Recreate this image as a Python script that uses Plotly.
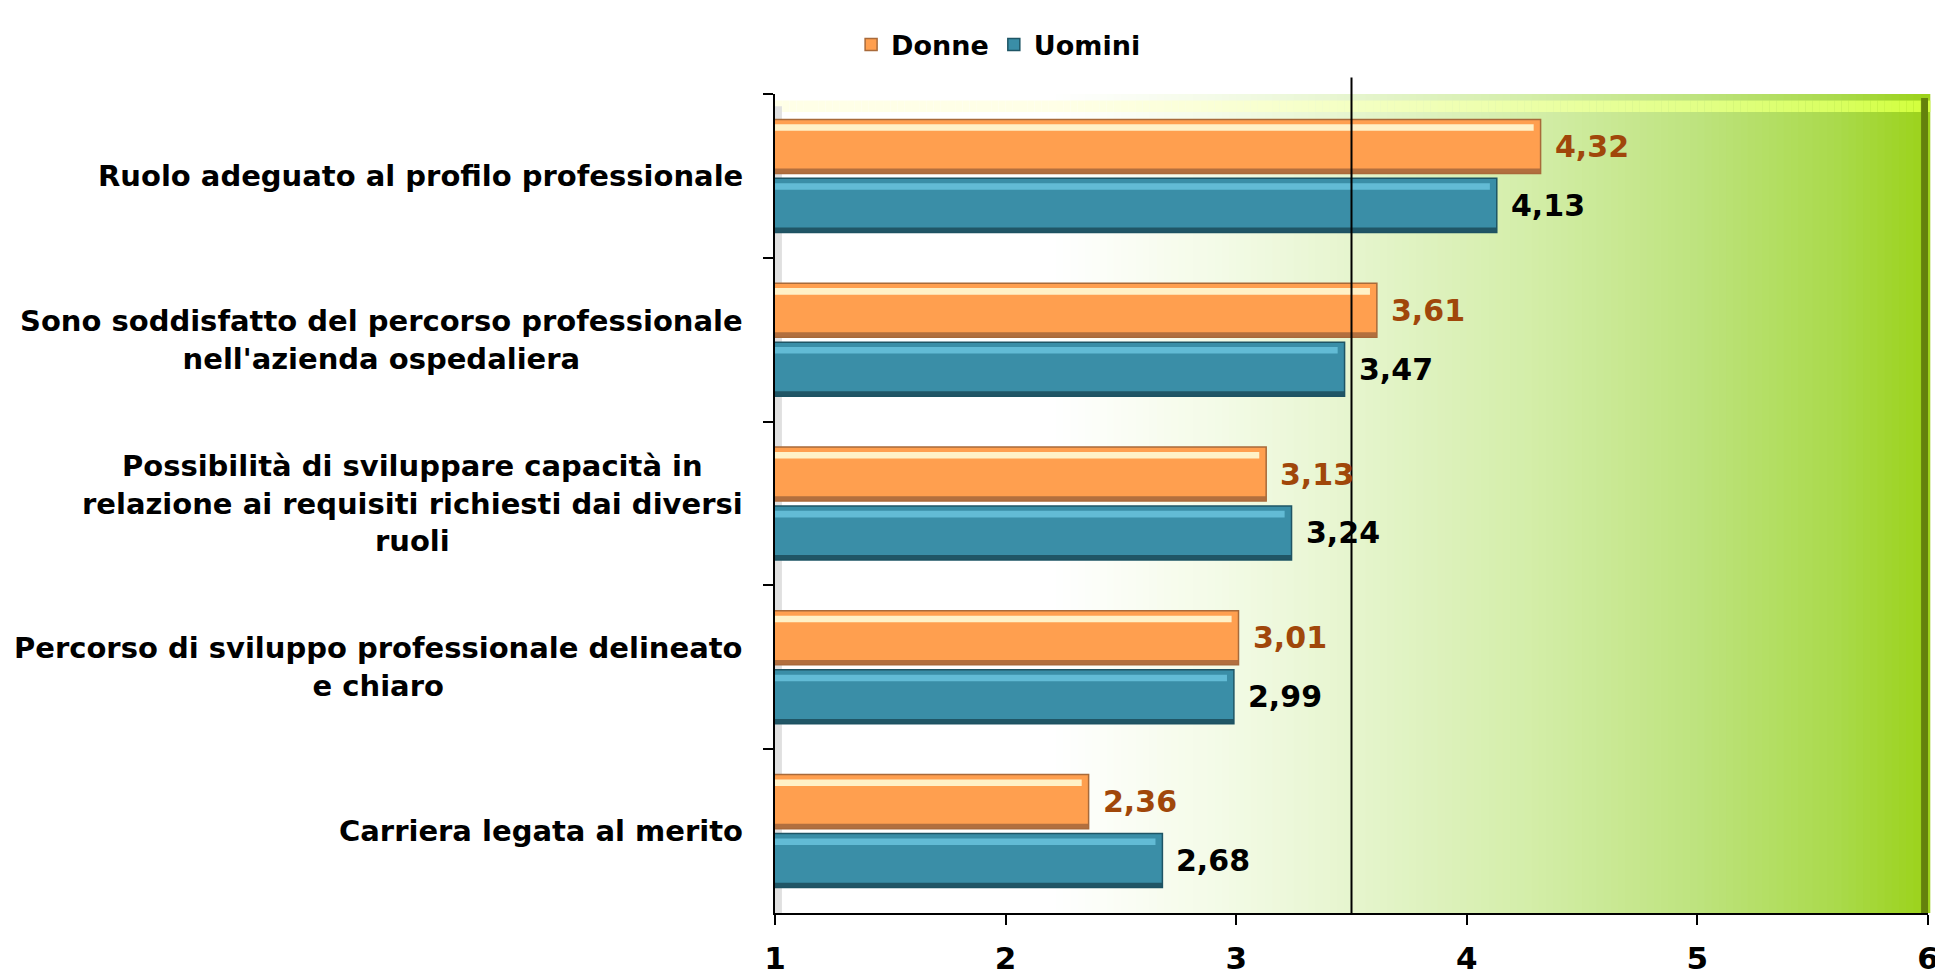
import plotly.graph_objects as go

categories = [
    "Ruolo adeguato al profilo professionale",
    "Sono soddisfatto del percorso professionale<br>nell'azienda ospedaliera",
    "Possibilità di sviluppare capacità in<br>relazione ai requisiti richiesti dai diversi<br>ruoli",
    "Percorso di sviluppo professionale delineato<br>e chiaro",
    "Carriera legata al merito",
]
donne = [4.32, 3.61, 3.13, 3.01, 2.36]
uomini = [4.13, 3.47, 3.24, 2.99, 2.68]
series_names = ["Donne", "Uomini"]
x_ticks = [1, 2, 3, 4, 5, 6]
ref_line = 3.5

FONT = "DejaVu Sans"
cat_ids = [f"c{i}" for i in range(len(categories))]

styles = [
    dict(vals=donne, name=series_names[0], color="#FF9F4F", edge="#A86A3A",
         hi="rgba(255,246,205,0.95)", lo="rgba(170,105,60,0.9)", label="#A0470A",
         offset=-0.345),
    dict(vals=uomini, name=series_names[1], color="#3A8EA7", edge="#1E5565",
         hi="rgba(100,190,215,0.95)", lo="rgba(30,80,95,0.9)", label="#000000",
         offset=0.015),
]
W = 0.33

fig = go.Figure()
for s in styles:
    fig.add_trace(go.Bar(
        y=cat_ids, x=s["vals"], orientation="h", name=s["name"],
        width=W, offset=s["offset"],
        marker=dict(color=s["color"], line=dict(color=s["edge"], width=1.5)),
        hoverinfo="x+name",
    ))
    # top highlight stripe
    fig.add_trace(go.Bar(
        y=cat_ids, x=[v - 0.03 for v in s["vals"]], orientation="h",
        width=0.04, offset=s["offset"] + 0.03, showlegend=False,
        marker=dict(color=s["hi"], line=dict(width=0)), hoverinfo="skip",
    ))
    # bottom shade stripe
    fig.add_trace(go.Bar(
        y=cat_ids, x=s["vals"], orientation="h",
        width=0.03, offset=s["offset"] + W - 0.03, showlegend=False,
        marker=dict(color=s["lo"], line=dict(width=0)), hoverinfo="skip",
    ))

annotations = []
for s in styles:
    for i, v in enumerate(s["vals"]):
        annotations.append(dict(
            x=v, y=i + s["offset"] + W / 2, xref="x", yref="y",
            text=f"{v:.2f}".replace(".", ","), showarrow=False,
            xanchor="left", yanchor="middle", xshift=12,
            font=dict(family=FONT, size=30, color=s["label"], weight="bold"),
        ))
for i, c in enumerate(categories):
    annotations.append(dict(
        x=0, y=i, xref="paper", yref="y", text=c, showarrow=False,
        xanchor="right", yanchor="middle", xshift=-30, align="center",
        font=dict(family=FONT, size=29, color="#000000", weight="bold"),
    ))

# background gradient of the plot wall
stops = [(0.0, (255, 255, 255)), (0.24, (255, 255, 255)), (0.38, (244, 251, 232)),
         (0.5, (230, 245, 206)), (0.65, (212, 238, 170)), (0.8, (190, 227, 126)),
         (0.92, (170, 218, 76)), (1.0, (155, 210, 25))]

def col_at(t):
    for (a, ca), (b, cb) in zip(stops[:-1], stops[1:]):
        if a <= t <= b:
            f = (t - a) / (b - a) if b > a else 0
            return tuple(ca[k] + (cb[k] - ca[k]) * f for k in range(3))
    return stops[-1][1]

def rgb(c):
    return "rgb(%d,%d,%d)" % tuple(round(v) for v in c)

shapes = []
N = 160
for k in range(N):
    t0, t1 = k / N, (k + 1) / N
    c = col_at((t0 + t1) / 2)
    shapes.append(dict(type="rect", xref="x domain", yref="y domain",
                       x0=t0, x1=t1 + 0.002, y0=0, y1=1, layer="below",
                       fillcolor=rgb(c), line=dict(width=0)))
    # top bevel of the wall: lighter, yellowish band
    hi = (min(255, c[0] + (255 - c[0]) * 0.55), 255, min(255, c[2] * 0.75 + 40))
    shapes.append(dict(type="rect", xref="x domain", yref="y domain",
                       x0=t0, x1=t1 + 0.002, y0=0.978, y1=0.992, layer="below",
                       fillcolor=rgb(hi), line=dict(width=0)))
# right bevel (dark green)
shapes.append(dict(type="rect", xref="x domain", yref="y domain", x0=0.994, x1=1.0,
                   y0=0, y1=0.995, layer="below", fillcolor="rgb(100,130,12)",
                   line=dict(width=0)))
# left wall shadow
shapes.append(dict(type="rect", xref="x domain", yref="y domain", x0=0.0, x1=0.006,
                   y0=0, y1=0.985, layer="below", fillcolor="rgb(224,224,224)",
                   line=dict(width=0)))
shapes.append(dict(type="line", xref="x", yref="y domain", x0=ref_line, x1=ref_line,
                   y0=0, y1=1.02, line=dict(color="#000000", width=2)))

fig.update_layout(
    width=1943, height=980,
    margin=dict(l=767, r=16, t=79, b=57),
    paper_bgcolor="#FFFFFF", plot_bgcolor="#FFFFFF",
    barmode="overlay",
    showlegend=True,
    legend=dict(orientation="h", x=0.066, xanchor="left", y=1.060, yanchor="middle",
                font=dict(family=FONT, size=27, color="#000000", weight="bold"),
                itemwidth=30, traceorder="normal", bgcolor="rgba(0,0,0,0)"),
    font=dict(family=FONT, size=28, color="#000000"),
    xaxis=dict(range=[1, 6], tickvals=x_ticks, ticktext=[str(t) for t in x_ticks],
               showgrid=False, zeroline=False, showline=True, linecolor="#000000",
               linewidth=2, ticks="outside", ticklen=10, tickwidth=2, tickcolor="#000000",
               ticklabelstandoff=7,
               tickfont=dict(family=FONT, size=31, color="#000000", weight="bold")),
    yaxis=dict(type="category", categoryorder="array", categoryarray=cat_ids,
               range=[4.5, -0.5], showgrid=False, zeroline=False, showline=True,
               linecolor="#000000", linewidth=2, ticks="outside", ticklen=10,
               tickwidth=2, tickcolor="#000000", tickson="boundaries",
               showticklabels=False),
    annotations=annotations,
    shapes=shapes,
)

fig.write_html("out.html")
